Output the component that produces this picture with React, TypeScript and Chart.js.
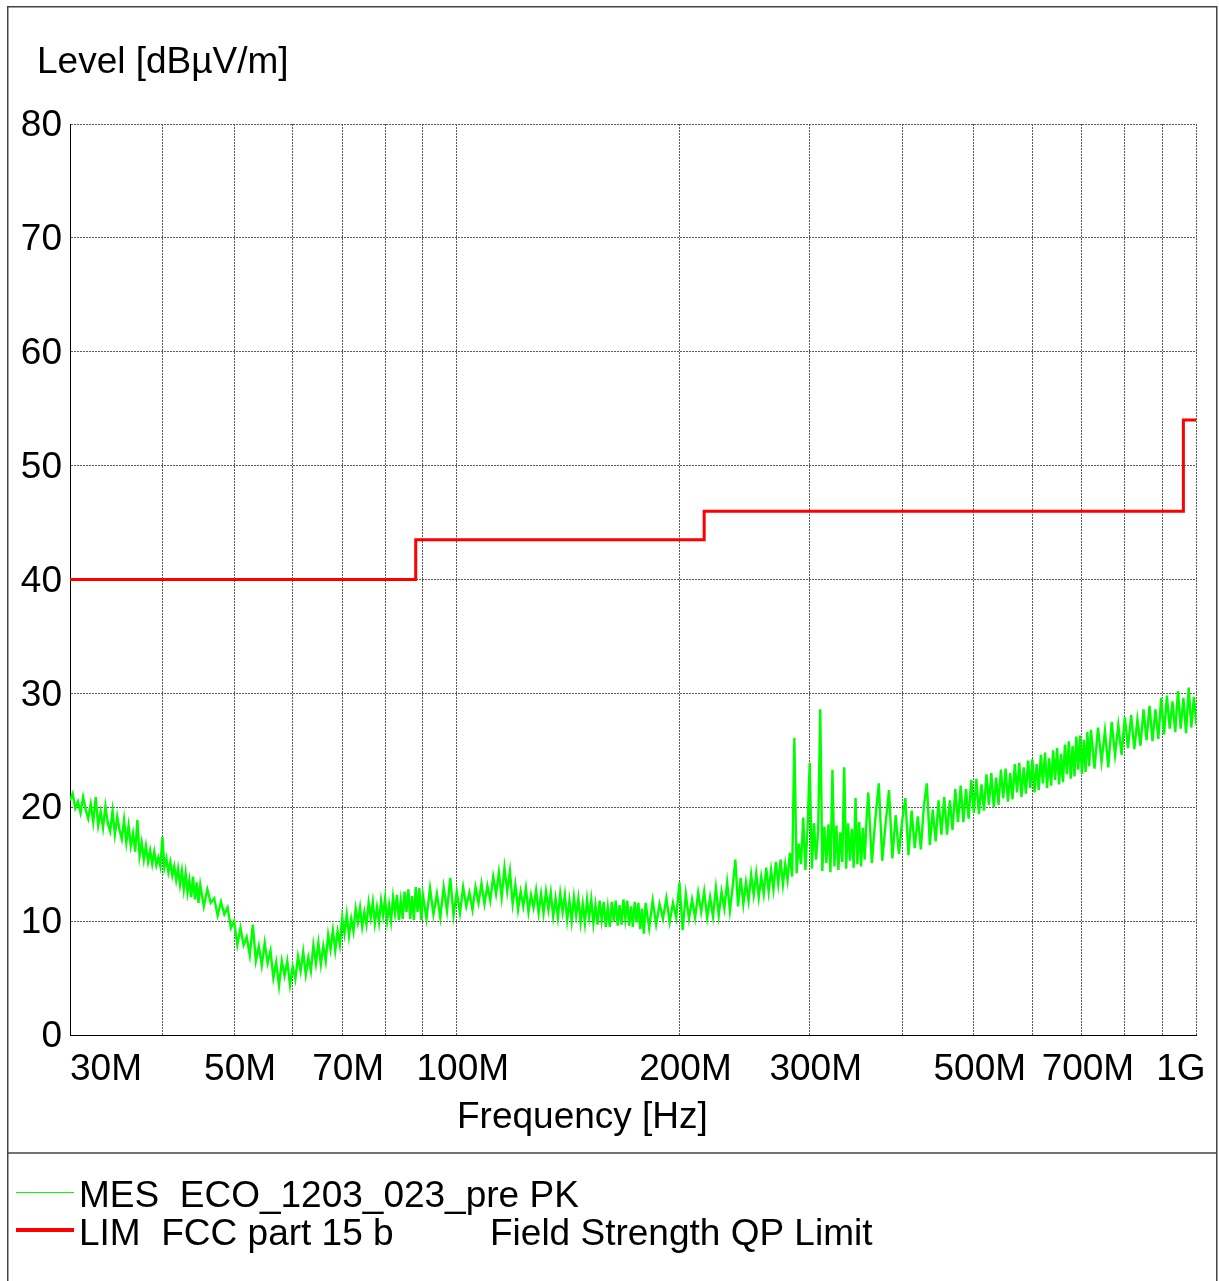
import React, { useEffect, useRef } from 'react';
import { Chart, registerables } from 'chart.js';

Chart.register(...registerables);

const FONT = "'Liberation Sans', Arial, Helvetica, sans-serif";
const FONT_SIZE = 37;

// ---- Measured trace: MES ECO_1203_023_pre PK ----
// Receiver sweep segments (start frequency and step in MHz); levels in dBµV/m read from the plot.
const SWEEP_1 = { startMHz: 30, stepMHz: 0.25 };
const LEVEL_1 = [
  20.6, 21.2, 19.9, 20.5, 19.5, 20.9, 19.8, 19.0, 20.3, 18.7,
  20.9, 18.4, 19.6, 18.2, 20.1, 18.6, 17.9, 19.7, 17.6, 19.2,
  18.0, 17.2, 18.9, 16.9, 18.4, 16.6, 17.7, 16.1, 18.9, 15.7,
  16.9, 15.4, 16.6, 15.2, 16.2, 15.0, 16.1, 14.9, 15.6, 14.8,
  17.4, 14.7, 15.5, 14.3, 15.2, 14.0, 14.8, 13.6, 14.6, 13.2,
  14.4, 12.8, 14.2, 12.5, 13.6, 12.1, 13.9, 11.9, 13.4, 11.6,
  13.2,
];

const SWEEP_2 = { startMHz: 45.5, stepMHz: 0.5 };
const LEVEL_2 = [
  11.3, 12.8, 11.6, 12.0, 10.5, 11.7, 10.6, 11.2, 9.4, 10.0,
  7.9, 9.4, 7.9, 8.6, 7.0, 9.7, 6.5, 7.8, 6.1, 8.1,
  6.3, 7.4, 5.0, 6.4, 4.3, 6.5, 5.2, 6.5, 4.4, 6.0,
  4.9, 6.9, 5.6, 7.3, 5.3, 6.8, 5.6, 7.9, 6.3, 8.1,
  6.2, 7.8, 6.5, 8.8, 7.5, 9.2, 7.4, 9.1, 7.9, 10.3,
  8.9, 10.6, 8.7, 10.2, 9.1, 11.1, 9.9, 11.2, 9.5, 10.8,
  9.7, 11.6, 10.3, 11.7, 9.8, 11.2, 9.9, 11.8, 10.5, 12.0,
  10.0, 11.4, 10.0, 12.1, 10.7, 12.3, 10.1, 11.8, 10.2, 12.6,
  10.8, 12.8, 10.2, 12.2, 10.1, 13.0, 10.8, 12.9, 10.1, 12.3,
];

const SWEEP_3 = { startMHz: 91, stepMHz: 1 };
const LEVEL_3 = [
  10.2, 12.9, 10.6, 12.4, 10.3, 13.0, 10.9, 13.8, 10.5, 12.6,
  10.7, 13.0, 11.3, 12.5, 11.0, 13.0, 11.6, 13.3, 11.5, 13.1,
  11.8, 13.9, 12.4, 14.3, 12.1, 14.7, 12.6, 14.4, 11.5, 13.2,
  11.0, 12.6, 11.3, 12.9, 10.8, 12.3, 11.2, 12.7, 10.7, 12.4,
  10.7, 12.6, 11.0, 12.5, 10.4, 12.0, 10.3, 12.4, 10.8, 12.3,
  10.1, 11.8, 10.0, 12.1, 10.5, 12.0, 9.9, 11.5, 9.8, 11.9,
  10.3, 11.9, 9.8, 11.4, 9.7, 11.8, 10.1, 11.7, 9.5, 11.2,
  9.5, 11.7, 10.0, 11.8, 9.6, 11.4, 9.7, 11.9, 10.2, 11.8,
  9.6, 11.3, 9.5, 11.7, 9.9, 11.6, 9.3, 11.1, 8.9, 11.6,
];

const SWEEP_4 = { startMHz: 182, stepMHz: 2 };
const LEVEL_4 = [
  9.4, 11.8, 9.7, 11.5, 10.2, 12.0, 9.9, 11.6, 10.3, 13.4,
  9.2, 12.4, 10.2, 11.9, 10.3, 12.5, 10.8, 12.6, 10.3, 12.1,
  10.4, 12.9, 10.5, 12.6, 11.1, 13.4, 10.9, 13.0, 15.4, 11.3,
  13.8, 11.5, 13.4, 11.8, 14.1, 12.3, 14.2, 12.1, 13.9, 12.4,
  14.7, 12.6, 14.5, 12.8, 15.2, 13.3, 15.4, 13.2, 15.0, 13.6,
  16.0, 13.9, 26.1, 14.2, 16.8, 15.0, 19.1, 14.5, 18.2, 23.9,
  14.6, 18.6, 15.4, 17.9, 28.6, 14.4, 18.3, 15.1, 18.5, 14.3,
  23.3, 14.8, 18.4, 14.5, 17.8, 15.2, 23.5, 14.6, 18.6, 15.3,
  18.1, 14.7, 20.8, 15.0, 18.7, 14.8, 18.2, 15.4, 18.8, 21.3,
];

const SWEEP_5 = { startMHz: 364, stepMHz: 4 };
const LEVEL_5 = [
  15.1, 19.0, 22.1, 15.3, 18.6, 21.5, 15.5, 19.3, 15.9, 18.8,
  20.8, 15.8, 19.7, 16.4, 19.2, 16.3, 20.1, 22.1, 16.7, 19.8,
  17.0, 20.6, 17.6, 20.9, 17.6, 20.6, 18.0, 21.6, 18.7, 21.9,
  18.7, 21.6, 19.0, 22.4, 19.5, 22.5, 19.4, 22.0, 19.7, 22.9,
  20.2, 23.0, 20.0, 22.6, 20.2, 23.3, 20.8, 23.4, 20.5, 23.0,
  20.7, 23.8, 21.3, 23.9, 20.9, 23.5, 21.2, 24.1, 21.7, 24.2,
  21.3, 23.8, 21.5, 24.6, 22.1, 24.8, 21.7, 24.3, 21.9, 25.0,
  22.4, 25.2, 22.0, 24.7, 22.2, 25.5, 22.9, 25.8, 22.5, 25.4,
  22.7, 26.2, 23.3, 26.3, 22.9, 25.9, 23.1, 26.6, 23.6, 26.8,
];

const SWEEP_6 = { startMHz: 728, stepMHz: 8 };
const LEVEL_6 = [
  23.4, 27.0, 24.0, 26.7, 23.5, 27.5, 24.6, 27.2, 24.6, 27.9,
  25.2, 28.1, 25.1, 27.7, 25.4, 28.6, 25.9, 28.9, 25.8, 28.6,
  26.0, 29.6, 26.4, 29.8, 26.9, 29.3, 26.6, 30.2, 26.9, 29.6,
  26.5, 30.5, 27.0, 29.7, 27.2,
];

// ---- Limit line: LIM FCC part 15 b, Field Strength QP Limit ----
const LIMIT_FREQ = [30, 88, 216, 960, 1000];
const LIMIT_LEVEL = [40, 43.5, 46, 54, 54];

// ---- Axes ----
const X_GRID_MHZ = [30, 40, 50, 60, 70, 80, 90, 100, 200, 300, 400, 500, 600, 700, 800, 900, 1000];
const X_LABEL_MHZ = [30, 50, 70, 100, 200, 300, 500, 700, 1000];
const X_LABEL_TEXT = ['30M', '50M', '70M', '100M', '200M', '300M', '500M', '700M', '1G'];
const Y_MIN = 0;
const Y_MAX = 80;
const Y_STEP = 10;

const TITLE_Y = 'Level [dBµV/m]';
const TITLE_X = 'Frequency [Hz]';
const LEGEND_MES = 'MES  ECO_1203_023_pre PK';
const LEGEND_LIM_A = 'LIM  FCC part 15 b';
const LEGEND_LIM_B = 'Field Strength QP Limit';

const SEGMENTS: Array<[{ startMHz: number; stepMHz: number }, number[]]> = [
  [SWEEP_1, LEVEL_1],
  [SWEEP_2, LEVEL_2],
  [SWEEP_3, LEVEL_3],
  [SWEEP_4, LEVEL_4],
  [SWEEP_5, LEVEL_5],
  [SWEEP_6, LEVEL_6],
];

const decorPlugin = {
  id: 'decor',
  beforeDraw(chart: any) {
    const ctx = chart.ctx;
    ctx.save();
    ctx.fillStyle = '#ffffff';
    ctx.fillRect(0, 0, chart.width, chart.height);
    ctx.restore();
  },
  afterDraw(chart: any) {
    const ctx = chart.ctx;
    const xs = chart.scales.x;
    ctx.save();
    // outer frame and legend separator
    ctx.strokeStyle = '#444';
    ctx.lineWidth = 1.5;
    ctx.beginPath();
    ctx.moveTo(7.75, 1290);
    ctx.lineTo(7.75, 6.75);
    ctx.lineTo(1216.75, 6.75);
    ctx.lineTo(1216.75, 1290);
    ctx.stroke();
    ctx.beginPath();
    ctx.moveTo(7.75, 1153);
    ctx.lineTo(1216.75, 1153);
    ctx.stroke();

    ctx.fillStyle = '#000';
    ctx.font = `${FONT_SIZE}px ${FONT}`;
    ctx.textBaseline = 'alphabetic';
    // y title
    ctx.textAlign = 'left';
    ctx.fillText(TITLE_Y, 37, 73);
    // x tick labels
    X_LABEL_MHZ.forEach((v, i) => {
      const px = xs.getPixelForValue(v);
      if (i === 0) {
        ctx.textAlign = 'left';
        ctx.fillText(X_LABEL_TEXT[i], px, 1080);
      } else if (i === X_LABEL_MHZ.length - 1) {
        ctx.textAlign = 'right';
        ctx.fillText(X_LABEL_TEXT[i], px + 9, 1080);
      } else {
        ctx.textAlign = 'center';
        ctx.fillText(X_LABEL_TEXT[i], px + 6, 1080);
      }
    });
    // x title
    ctx.textAlign = 'left';
    ctx.fillText(TITLE_X, 457, 1128);

    // legend
    ctx.strokeStyle = '#00ff00';
    ctx.lineWidth = 1;
    ctx.beginPath();
    ctx.moveTo(16, 1192.5);
    ctx.lineTo(74, 1192.5);
    ctx.stroke();
    ctx.strokeStyle = '#ff0000';
    ctx.lineWidth = 4;
    ctx.beginPath();
    ctx.moveTo(16, 1230);
    ctx.lineTo(74, 1230);
    ctx.stroke();
    ctx.fillStyle = '#000';
    ctx.textAlign = 'left';
    ctx.fillText(LEGEND_MES, 79, 1207);
    ctx.fillText(LEGEND_LIM_A, 79, 1245);
    ctx.fillText(LEGEND_LIM_B, 490, 1245);
    ctx.restore();
  },
};

export default function App() {
  const ref = useRef<HTMLCanvasElement>(null);
  useEffect(() => {
    if (!ref.current) return;
    const mesData: { x: number; y: number }[] = [];
    SEGMENTS.forEach(([sweep, levels]) => {
      levels.forEach((lv, i) => {
        mesData.push({ x: sweep.startMHz + i * sweep.stepMHz, y: lv });
      });
    });
    const limData = LIMIT_FREQ.map((f, i) => ({ x: f, y: LIMIT_LEVEL[i] }));
    const gridColor = '#5a5a5a';
    const chart = new Chart(ref.current, {
      type: 'line',
      data: {
        datasets: [
          {
            label: 'MES',
            data: mesData,
            borderColor: '#00ff00',
            borderWidth: 2.4,
            pointRadius: 0,
            tension: 0,
            borderJoinStyle: 'miter',
            order: 2,
          },
          {
            label: 'LIM',
            data: limData,
            borderColor: '#ff0000',
            borderWidth: 3,
            pointRadius: 0,
            stepped: 'before',
            order: 1,
          },
        ],
      },
      options: {
        animation: false,
        responsive: false,
        devicePixelRatio: 1,
        layout: { padding: { left: 0, top: 124, right: 22.5, bottom: 0 } },
        plugins: { legend: { display: false }, tooltip: { enabled: false }, title: { display: false } },
        scales: {
          x: {
            type: 'logarithmic',
            min: 30,
            max: 1000,
            afterBuildTicks: (s: any) => {
              s.ticks = X_GRID_MHZ.map((v) => ({ value: v }));
            },
            afterFit: (s: any) => {
              s.height = 246;
            },
            ticks: { display: false, autoSkip: false },
            grid: { color: gridColor, lineWidth: 1, drawTicks: false },
            border: { display: true, color: '#000', width: 1, dash: [2, 1] },
          },
          y: {
            min: Y_MIN,
            max: Y_MAX,
            afterFit: (s: any) => {
              s.width = 70;
            },
            ticks: {
              stepSize: Y_STEP,
              padding: 8,
              labelOffset: 2,
              color: '#000',
              font: { family: FONT, size: FONT_SIZE },
            },
            grid: { color: gridColor, lineWidth: 1, drawTicks: false },
            border: { display: true, color: '#000', width: 1, dash: [2, 1] },
          },
        },
      },
      plugins: [decorPlugin],
    } as any);
    return () => chart.destroy();
  }, []);
  return (
    <div style={{ position: 'absolute', left: 0, top: 0, width: 1219, height: 1281, background: '#fff' }}>
      <canvas ref={ref} width={1219} height={1281} style={{ display: 'block', width: 1219, height: 1281 }} />
    </div>
  );
}
